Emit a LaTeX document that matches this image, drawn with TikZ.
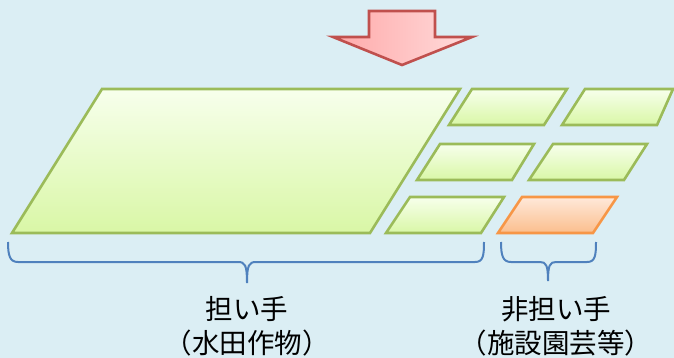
\documentclass[tikz,border=0pt]{standalone}
\usepackage{fontspec}
\newfontfamily\jp{Noto Sans CJK JP}
\definecolor{bg}{HTML}{DBEEF4}
\definecolor{gline}{HTML}{9BBB59}
\definecolor{gtop}{HTML}{F7FFEC}
\definecolor{gbot}{HTML}{D9F7A6}
\definecolor{oline}{HTML}{F79646}
\definecolor{otop}{HTML}{FFE9DA}
\definecolor{obot}{HTML}{FBBE8D}
\definecolor{aline}{HTML}{C0504D}
\definecolor{aleft}{HTML}{FFA9A9}
\definecolor{aright}{HTML}{FFDCDC}
\definecolor{brc}{HTML}{4F81BD}
\begin{document}
\begin{tikzpicture}[x=1pt,y=-1pt,
  field/.style={draw=gline,line width=2.6pt,line join=miter,top color=gtop,bottom color=gbot},
  ofield/.style={draw=oline,line width=2.6pt,line join=miter,top color=otop,bottom color=obot},
  bracepath/.style={draw=brc,line width=2pt},
  lbl/.style={font=\jp\fontsize{27.5}{34}\selectfont,align=center,text=black,inner sep=0pt}]
\fill[bg] (0,0) rectangle (674,358);
\useasboundingbox (0,0) rectangle (674,358);
% arrow
\path[draw=aline,line width=2.6pt,left color=aleft,right color=aright]
  (369,11) -- (435,11) -- (435,37) -- (472,37) -- (402,65) -- (333,37) -- (369,37) -- cycle;
% large field
\path[field] (102,89) -- (460,89) -- (370,233) -- (12,233) -- cycle;
% small fields
\path[field] (472,89) -- (567,89) -- (544,125) -- (449,125) -- cycle;
\path[field] (585,89) -- (673,89) -- (657,125) -- (562,125) -- cycle;
\path[field] (440,144) -- (534,144) -- (512,180) -- (417,180) -- cycle;
\path[field] (553,144) -- (647,144) -- (624,180) -- (529,180) -- cycle;
\path[field] (410,197) -- (504,197) -- (481,233) -- (386,233) -- cycle;
\path[ofield] (522,197) -- (617,197) -- (593,233) -- (498,233) -- cycle;
% braces
\coordinate (b1tip) at (247,283);
\coordinate (b2tip) at (548,281);
\path[bracepath] (8,242) .. controls (8,256) and (10,262) .. (18,262)
  -- (238,262) .. controls (245,262) and (247,265) .. (b1tip)
  .. controls (247,265) and (249,262) .. (256,262)
  -- (475,262) .. controls (483,262) and (484,256) .. (484,242);
\path[bracepath] (501,242) .. controls (501,256) and (503,262) .. (511,262)
  -- (540,262) .. controls (546,262) and (548,265) .. (b2tip)
  .. controls (548,265) and (550,262) .. (556,262)
  -- (587,262) .. controls (595,262) and (596,256) .. (596,242);
% labels
\node[lbl] (l1) at (247,326) {担い手\\（水田作物）};
\node[lbl] (l2) at (556,326) {非担い手\\（施設園芸等）};
\end{tikzpicture}
\end{document}
